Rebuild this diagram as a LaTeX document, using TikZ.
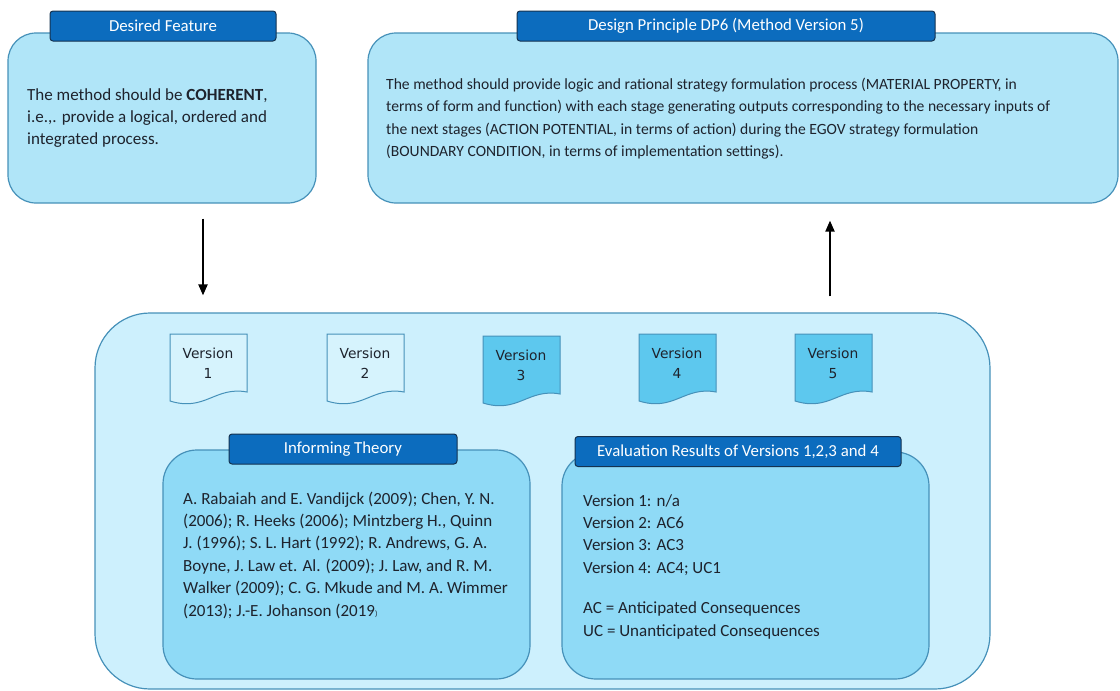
\documentclass[tikz,border=0pt]{standalone}
\usepackage{fontspec}
\setmainfont{Carlito}
\newfontfamily\docfont{DejaVu Sans}
\usetikzlibrary{arrows.meta, positioning, calc}
\definecolor{PanelBG}{RGB}{176,229,248}
\definecolor{OuterBG}{RGB}{205,240,253}
\definecolor{InnerBG}{RGB}{143,218,246}
\definecolor{DocPale}{RGB}{214,243,253}
\definecolor{DocBlue}{RGB}{93,200,238}
\definecolor{TabBlue}{RGB}{12,108,190}
\definecolor{TabEdge}{RGB}{20,50,80}
\definecolor{EdgeBlue}{RGB}{70,145,185}
\definecolor{TextDark}{RGB}{30,35,45}

\tikzset{
  panel/.style={draw=EdgeBlue, line width=1.2pt, rounded corners=28pt, fill=PanelBG},
  tab/.style={draw=TabEdge, line width=1pt, fill=TabBlue, rounded corners=3pt,
    text=white, font=\fontsize{16.8}{18}\selectfont, inner sep=0pt},
  body/.style={text=TextDark, align=left, anchor=west, inner sep=0pt,
    font=\fontsize{17}{22.4}\selectfont},
  doclabel/.style={text=TextDark, align=center, inner sep=0pt,
    font=\docfont\fontsize{13.8}{20}\selectfont},
  flow/.style={line width=2pt, -{Triangle[width=9pt,length=11pt]}},
}

\begin{document}
\begin{tikzpicture}[x=1pt, y=-1pt]
  \useasboundingbox (0,0) rectangle (1120,691);

  % top row
  \node[panel, minimum width=308pt, minimum height=170pt] (feature) at (162,118) {};
  \node[tab, minimum width=226pt, minimum height=30pt] (featuretab) at (163,26) {Desired Feature};
  \node[body] (featuretext) at (27,118)
    {The method should be \textbf{COHERENT},\\
     i.e.,. provide a logical, ordered and\\
     integrated process.};

  \node[panel, minimum width=750pt, minimum height=170pt] (principle) at (743,118) {};
  \node[tab, minimum width=418pt, minimum height=30pt] (principletab) at (726,26)
    {Design Principle DP6 (Method Version 5)};
  \node[body, font=\fontsize{15.6}{22.4}\selectfont] (principletext) at (386,118.5)
    {The method should provide logic and rational strategy formulation process (MATERIAL PROPERTY, in\\
     terms of form and function) with each stage generating outputs corresponding to the necessary inputs of\\
     the next stages (ACTION POTENTIAL, in terms of action) during the EGOV strategy formulation\\
     (BOUNDARY CONDITION, in terms of implementation settings).};

  % method versions
  \node[panel, rounded corners=55pt, fill=OuterBG, minimum width=895pt, minimum height=376pt]
    (versions) at (542.5,501) {};

  \foreach \n/\x/\t/\c in {1/170/334/DocPale, 2/327/334/DocPale, 3/483/336/DocBlue,
                           4/639/334/DocBlue, 5/795/334/DocBlue} {
    \filldraw[draw=EdgeBlue, line width=1pt, fill=\c]
      (\x,\t) -- ({\x+77},\t) -- ({\x+77},{\t+58})
      .. controls ({\x+45},{\t+52}) and ({\x+35},{\t+78}) .. (\x,{\t+67}) -- cycle;
    \node[doclabel] (v\n) at ({\x+38},{\t+29}) {Version\\\n};
  }

  \node[panel, rounded corners=34pt, fill=InnerBG, minimum width=367pt, minimum height=229pt]
    (theory) at (346.5,564.5) {};
  \node[tab, minimum width=228pt, minimum height=30pt] (theorytab) at (343,449) {Informing Theory};
  \node[body] (theorytext) at (183,555)
    {A. Rabaiah and E. Vandijck (2009); Chen, Y. N.\\
     (2006); R. Heeks (2006); Mintzberg H., Quinn\\
     J. (1996); S. L. Hart (1992); R. Andrews, G. A.\\
     Boyne, J. Law et. Al. (2009); J. Law, and R. M.\\
     Walker (2009); C. G. Mkude and M. A. Wimmer\\
     (2013); J.-E. Johanson (2019{\footnotesize)}};

  \node[panel, rounded corners=34pt, fill=InnerBG, minimum width=367pt, minimum height=227pt]
    (results) at (745.5,565.5) {};
  \node[tab, minimum width=326pt, minimum height=30pt] (resultstab) at (738,451.5)
    {Evaluation Results of Versions 1,2,3 and 4};
  \node[body] (resultstext) at (583,566.5)
    {Version 1: n/a\\
     Version 2: AC6\\
     Version 3: AC3\\
     Version 4: AC4; UC1\\[18pt]
     AC = Anticipated Consequences\\
     UC = Unanticipated Consequences};

  % links
  \coordinate (downx) at (203,0);
  \coordinate (upx) at (830,0);
  \draw[flow, shorten <=15pt, shorten >=17pt] (feature.south -| downx) -- (versions.north -| downx);
  \draw[flow, shorten <=16pt, shorten >=17pt] (versions.north -| upx) -- (principle.south -| upx);
\end{tikzpicture}
\end{document}
